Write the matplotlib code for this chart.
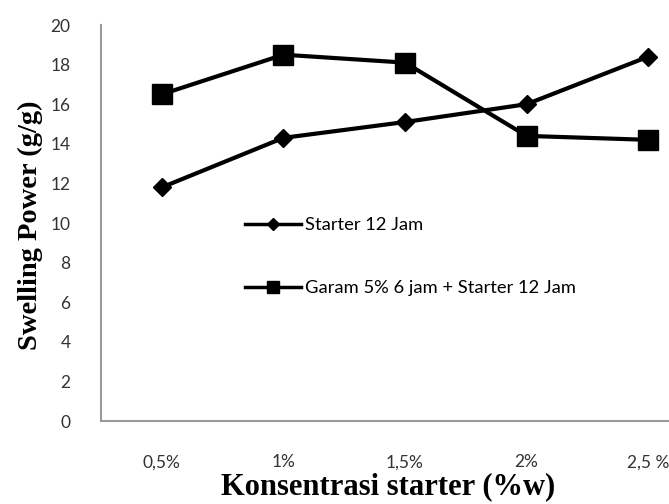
import matplotlib
matplotlib.use("Agg")
import matplotlib.pyplot as plt
from matplotlib.lines import Line2D

categories = ["0,5%", "1%", "1,5%", "2%", "2,5 %"]
starter = [11.8, 14.3, 15.1, 16.0, 18.4]
garam = [16.5, 18.5, 18.1, 14.4, 14.2]
series_names = ["Starter 12 Jam", "Garam 5% 6 jam + Starter 12 Jam"]
yticks = [0, 2, 4, 6, 8, 10, 12, 14, 16, 18, 20]

narrow = ["Lato", "DejaVu Sans"]
serif = ["Liberation Serif", "DejaVu Serif"]

fig = plt.figure(figsize=(6.69, 5.04), dpi=100)
ax = fig.add_axes([101/669, 83/504, 608/669, 396/504])

x = list(range(len(categories)))
ax.plot(x, starter, color="black", lw=3, marker="D", markersize=9, clip_on=False, zorder=3)
ax.plot(x, garam, color="black", lw=3, marker="s", markersize=14, clip_on=False, zorder=3)

ax.set_xlim(-0.5, 4.5)
ax.set_ylim(0, 20)
ax.set_xticks(x)
ax.set_xticklabels(categories, fontfamily=narrow, fontsize=12.5)
ax.set_yticks(yticks)
ax.set_yticklabels([str(v) for v in yticks], fontfamily=narrow, fontsize=12.5)
ax.tick_params(axis="both", length=0, colors="#333333")
ax.tick_params(axis="x", pad=24)
ax.tick_params(axis="y", pad=22)

for s in ["top", "right"]:
    ax.spines[s].set_visible(False)
for s in ["left", "bottom"]:
    ax.spines[s].set_color("#999999")
    ax.spines[s].set_linewidth(1.5)

fig.text(388/669, 1 - 487/504, "Konsentrasi starter (%w)", ha="center", va="center",
         fontfamily=serif, fontweight="bold", fontsize=22)
fig.text(30/669, 1 - 225/504, "Swelling Power (g/g)", ha="center", va="center",
         rotation=90, fontfamily=serif, fontweight="bold", fontsize=20.5)

handles = [
    Line2D([], [], color="black", lw=2.5, marker="D", markersize=6),
    Line2D([], [], color="black", lw=2.5, marker="s", markersize=9),
]
leg = fig.legend(handles, series_names, loc="upper left",
                 bbox_to_anchor=(228/669, 1 - 201/504), frameon=False,
                 prop={"family": narrow, "size": 13.2}, handlelength=3.1,
                 handletextpad=0.2, labelspacing=2.55)

fig.savefig("out.png", dpi=100)
